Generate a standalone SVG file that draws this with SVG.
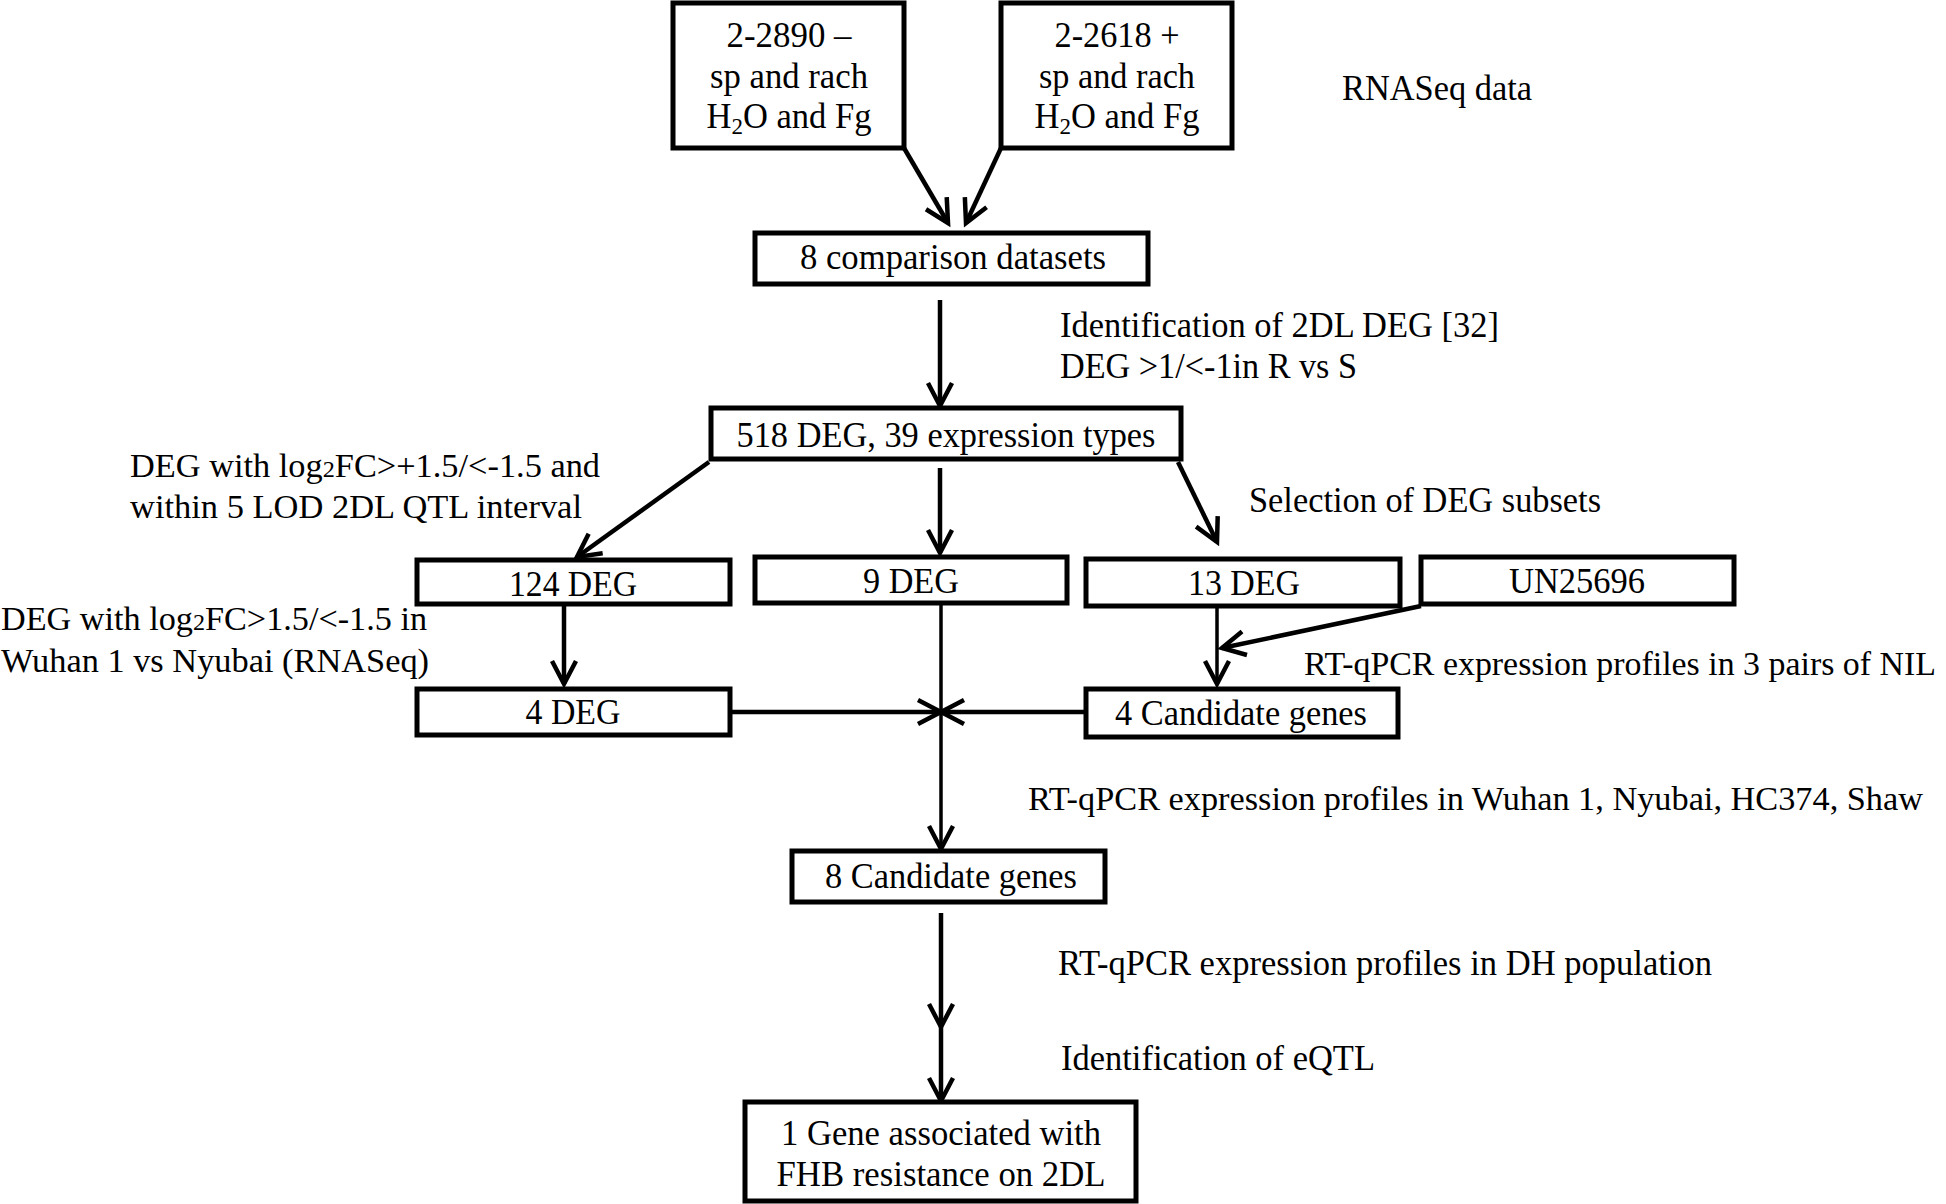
<svg xmlns="http://www.w3.org/2000/svg" width="1946" height="1204" viewBox="0 0 1946 1204">
<style>
  text { font-family: "Liberation Serif", "Times New Roman", serif; font-size: 36px; fill: #000; }
  .c { text-anchor: middle; }
  .box { fill: #fff; stroke: #000; stroke-width: 5; }
  .ln { stroke: #000; stroke-width: 4.5; fill: none; }
  .thin { stroke: #000; stroke-width: 3.5; fill: none; }
  .sub { font-size: 24px; }
</style>
<defs>
  <marker id="ah" markerUnits="userSpaceOnUse" markerWidth="40" markerHeight="40" viewBox="-30 -20 40 40" refX="0" refY="0" orient="auto">
    <path d="M-23,-12 L0,0 L-23,12" fill="none" stroke="#000" stroke-width="4.5"/>
  </marker>
</defs>
<rect width="1946" height="1204" fill="#fff"/>

<g id="connectors">
  <line class="ln" x1="904" y1="148" x2="948" y2="223" marker-end="url(#ah)"/>
  <line class="ln" x1="1001" y1="148" x2="966" y2="223" marker-end="url(#ah)"/>
  <line class="ln" x1="940" y1="300" x2="940" y2="406" marker-end="url(#ah)"/>
  <line class="ln" x1="709" y1="462" x2="577" y2="557" marker-end="url(#ah)"/>
  <line class="ln" x1="940" y1="468" x2="940" y2="553" marker-end="url(#ah)"/>
  <line class="ln" x1="1178" y1="462" x2="1217" y2="542" marker-end="url(#ah)"/>
  <line class="ln" x1="564" y1="604" x2="564" y2="684" marker-end="url(#ah)"/>
  <line class="thin" x1="1217" y1="606" x2="1217" y2="684" marker-end="url(#ah)"/>
  <line class="ln" x1="1421" y1="606" x2="1222" y2="648" marker-end="url(#ah)"/>
  <line class="thin" x1="941" y1="603" x2="941" y2="849" marker-end="url(#ah)"/>
  <line class="ln" x1="730" y1="712" x2="941" y2="712" marker-end="url(#ah)"/>
  <line class="ln" x1="1086" y1="712" x2="941" y2="712" marker-end="url(#ah)"/>
  <line class="ln" x1="941" y1="913" x2="941" y2="1027" marker-end="url(#ah)"/>
  <line class="ln" x1="941" y1="1027" x2="941" y2="1101" marker-end="url(#ah)"/>
</g>

<g id="node-2890">
  <rect class="box" x="673" y="3" width="231" height="145"/>
  <text class="c" x="789" y="47" textLength="125" lengthAdjust="spacingAndGlyphs">2-2890 –</text>
  <text class="c" x="789" y="88" textLength="158" lengthAdjust="spacingAndGlyphs">sp and rach</text>
  <text class="c" x="789" y="128" textLength="165" lengthAdjust="spacingAndGlyphs">H<tspan class="sub" dy="6">2</tspan><tspan dy="-6">O and Fg</tspan></text>
</g>
<g id="node-2618">
  <rect class="box" x="1001" y="3" width="231" height="145"/>
  <text class="c" x="1117" y="47" textLength="125" lengthAdjust="spacingAndGlyphs">2-2618 +</text>
  <text class="c" x="1117" y="88" textLength="156" lengthAdjust="spacingAndGlyphs">sp and rach</text>
  <text class="c" x="1117" y="128" textLength="165" lengthAdjust="spacingAndGlyphs">H<tspan class="sub" dy="6">2</tspan><tspan dy="-6">O and Fg</tspan></text>
</g>
<g id="label-rnaseq"><text x="1342" y="100" textLength="190" lengthAdjust="spacingAndGlyphs">RNASeq data</text></g>

<g id="node-8comp">
  <rect class="box" x="755" y="233" width="393" height="51"/>
  <text class="c" x="953" y="269" textLength="306" lengthAdjust="spacingAndGlyphs">8 comparison datasets</text>
</g>
<g id="label-ident2dl">
  <text x="1060" y="337" textLength="439" lengthAdjust="spacingAndGlyphs">Identification of 2DL DEG [32]</text>
  <text x="1060" y="378" textLength="297" lengthAdjust="spacingAndGlyphs">DEG &gt;1/&lt;-1in R vs S</text>
</g>

<g id="node-518">
  <rect class="box" x="711" y="408" width="470" height="51"/>
  <text class="c" x="946" y="447" textLength="419" lengthAdjust="spacingAndGlyphs">518 DEG, 39 expression types</text>
</g>
<g id="label-qtl">
  <text x="130" y="477" style="font-size:34px" textLength="470" lengthAdjust="spacingAndGlyphs">DEG with log<tspan class="sub">2</tspan>FC&gt;+1.5/&lt;-1.5 and</text>
  <text x="130" y="518" style="font-size:34px" textLength="452" lengthAdjust="spacingAndGlyphs">within 5 LOD 2DL QTL interval</text>
</g>
<g id="label-selection"><text x="1249" y="512" textLength="352" lengthAdjust="spacingAndGlyphs">Selection of DEG subsets</text></g>

<g id="node-124">
  <rect class="box" x="417" y="560" width="313" height="44"/>
  <text class="c" x="573" y="596" textLength="128" lengthAdjust="spacingAndGlyphs">124 DEG</text>
</g>
<g id="node-9">
  <rect class="box" x="755" y="557" width="312" height="46"/>
  <text class="c" x="911" y="593" textLength="96" lengthAdjust="spacingAndGlyphs">9 DEG</text>
</g>
<g id="node-13">
  <rect class="box" x="1086" y="559" width="314" height="47"/>
  <text class="c" x="1244" y="595" textLength="112" lengthAdjust="spacingAndGlyphs">13 DEG</text>
</g>
<g id="node-un25696">
  <rect class="box" x="1421" y="557" width="313" height="47"/>
  <text class="c" x="1577" y="593" textLength="136" lengthAdjust="spacingAndGlyphs">UN25696</text>
</g>

<g id="label-wuhan-rnaseq">
  <text x="1" y="630" style="font-size:34px" textLength="426" lengthAdjust="spacingAndGlyphs">DEG with log<tspan class="sub">2</tspan>FC&gt;1.5/&lt;-1.5 in</text>
  <text x="1" y="672" style="font-size:34px" textLength="428" lengthAdjust="spacingAndGlyphs">Wuhan 1 vs Nyubai (RNASeq)</text>
</g>
<g id="label-nil"><text x="1304" y="675" style="font-size:33px" textLength="632" lengthAdjust="spacingAndGlyphs">RT-qPCR expression profiles in 3 pairs of NIL</text></g>

<g id="node-4deg">
  <rect class="box" x="417" y="689" width="313" height="46"/>
  <text class="c" x="573" y="724" textLength="95" lengthAdjust="spacingAndGlyphs">4 DEG</text>
</g>
<g id="node-4cand">
  <rect class="box" x="1086" y="689" width="312" height="48"/>
  <text class="c" x="1241" y="725" textLength="252" lengthAdjust="spacingAndGlyphs">4 Candidate genes</text>
</g>

<g id="label-wuhan-qpcr"><text x="1028" y="810" style="font-size:34px" textLength="895" lengthAdjust="spacingAndGlyphs">RT-qPCR expression profiles in Wuhan 1, Nyubai, HC374, Shaw</text></g>

<g id="node-8cand">
  <rect class="box" x="792" y="851" width="313" height="51"/>
  <text class="c" x="951" y="888" textLength="252" lengthAdjust="spacingAndGlyphs">8 Candidate genes</text>
</g>
<g id="label-dh"><text x="1058" y="975" textLength="654" lengthAdjust="spacingAndGlyphs">RT-qPCR expression profiles in DH population</text></g>
<g id="label-eqtl"><text x="1061" y="1070" textLength="314" lengthAdjust="spacingAndGlyphs">Identification of eQTL</text></g>

<g id="node-final">
  <rect class="box" x="745" y="1102" width="391" height="99"/>
  <text class="c" x="941" y="1145" textLength="320" lengthAdjust="spacingAndGlyphs">1 Gene associated with</text>
  <text class="c" x="941" y="1186" textLength="329" lengthAdjust="spacingAndGlyphs">FHB resistance on 2DL</text>
</g>
</svg>
